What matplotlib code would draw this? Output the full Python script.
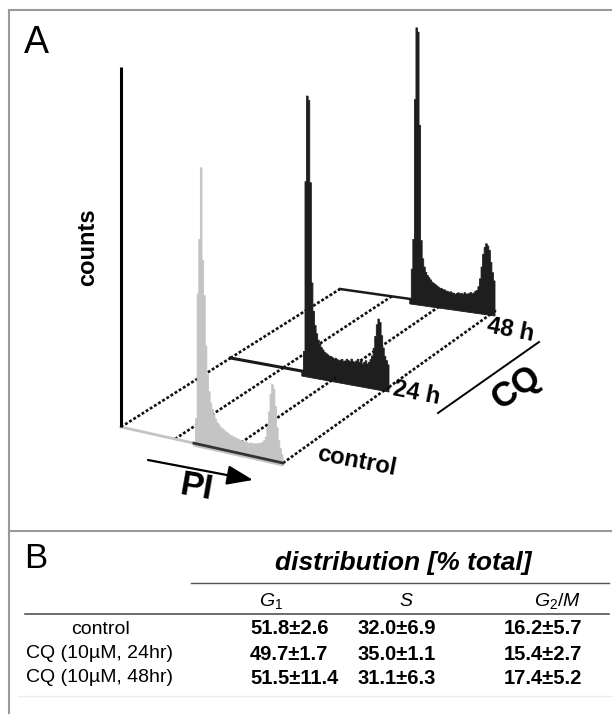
import matplotlib
matplotlib.use("Agg")
import matplotlib.pyplot as plt
import numpy as np
from matplotlib.patches import Polygon

plt.rcParams['font.family'] = ['Liberation Sans', 'DejaVu Sans']
plt.rcParams['mathtext.fontset'] = 'custom'
plt.rcParams['mathtext.it'] = 'Liberation Sans:italic'
plt.rcParams['mathtext.rm'] = 'Liberation Sans'

# ---------------- data ----------------
# PI channel (relative DNA content, % of full scale), one value per channel
pi_channels = list(range(45, 101))
counts_control = [0, 25, 150, 205, 277, 185, 150, 100, 72, 55,
                  44, 38, 33, 29, 26, 24, 22, 21, 20, 19,
                  18, 17, 16, 16, 15, 15, 14, 14, 13, 13,
                  13, 12, 13, 12, 12, 13, 12, 13, 13, 14,
                  14, 15, 16, 18, 22, 32, 48, 66, 76, 72,
                  55, 34, 22, 14, 8, 0]
counts_24h = [0, 20, 190, 276, 272, 190, 90, 62, 48, 40,
              34, 30, 27, 25, 23, 22, 21, 20, 20, 19,
              18, 19, 18, 17, 18, 19, 17, 18, 20, 19,
              18, 21, 19, 18, 20, 22, 19, 21, 18, 20,
              22, 19, 21, 24, 28, 36, 48, 60, 66, 63,
              50, 38, 30, 26, 22, 0]
counts_48h = [0, 30, 60, 200, 272, 268, 175, 60, 42, 34,
              29, 26, 24, 22, 20, 19, 18, 17, 16, 15,
              15, 14, 14, 13, 13, 12, 13, 12, 12, 11,
              12, 13, 12, 13, 12, 14, 13, 13, 14, 15,
              14, 15, 17, 18, 22, 30, 42, 55, 62, 66,
              64, 60, 48, 38, 30, 0]
sample_labels = ['control', '24 h', '48 h']
sample_depth = [0.0, 0.5, 1.0]          # position along the CQ (time) axis

row_labels = ['control', 'CQ (10µM, 24hr)', 'CQ (10µM, 48hr)']
phase_headers = [r'$\mathit{G_1}$', r'$\mathit{S}$', r'$\mathit{G_2/M}$']
g1_mean = [51.8, 49.7, 51.5]
g1_sd = [2.6, 1.7, 11.4]
s_mean = [32.0, 35.0, 31.1]
s_sd = [6.9, 1.1, 6.3]
g2m_mean = [16.2, 15.4, 17.4]
g2m_sd = [5.7, 2.7, 5.2]

# ---------------- figure ----------------
fig = plt.figure(figsize=(6.12, 7.15), dpi=100)
ax = fig.add_axes([0, 0, 1, 1])
ax.set_xlim(0, 612)
ax.set_ylim(715, 0)
ax.axis('off')

# oblique projection frame (front-left, front-right, back-left, back-right)
FL = np.array([121.0, 427.0]); FR = np.array([283.0, 463.0])
BL = np.array([340.0, 289.0]); BR = np.array([495.0, 311.0])


def base(s, t):
    s = np.asarray(s, float)[..., None]
    return (1 - s) * (1 - t) * FL + s * (1 - t) * FR + (1 - s) * t * BL + s * t * BR


def proj(chan, cnt, t):
    p = base(np.asarray(chan, float) / 100.0, t)
    return p[:, 0], p[:, 1] - np.asarray(cnt, float)


def hist_polygon(chan, cnt, t, under):
    c = np.asarray(chan, float); h = np.asarray(cnt, float)
    xs = [c[0]]; hs = [-under]
    for i in range(len(c) - 1):
        xs += [c[i], c[i + 1]]
        hs += [h[i], h[i]]
    xs += [c[-1]]; hs += [-under]
    X, Y = proj(xs, hs, t)
    return np.column_stack([X, Y])


grid_s = [0, 100 / 3, 200 / 3, 100]
dash = dict(color='#111111', lw=1.9, ls=(0, (1.1, 0.75)), solid_capstyle='butt')

# back half grid (between 24 h and 48 h)
for g in grid_s:
    p0 = base([g / 100], 0.5)[0]; p1 = base([g / 100], 1.0)[0]
    ax.plot([p0[0], p1[0]], [p0[1], p1[1]], zorder=1, **dash)
# 48 h baseline
X, Y = proj([0, 100], [0, 0], 1.0)
ax.plot(X, Y, color='#1a1a1a', lw=1.8, zorder=1)
ax.add_patch(Polygon(hist_polygon(pi_channels, counts_48h, 1.0, 5),
                     closed=True, fc='#1e1e1e', ec='#1e1e1e', lw=0.6, zorder=2))

# 24 h
X, Y = proj([0, 100], [0, 0], 0.5)
ax.plot(X, Y, color='#1a1a1a', lw=2.2, zorder=3)
ax.add_patch(Polygon(hist_polygon(pi_channels, counts_24h, 0.5, 5),
                     closed=True, fc='#1e1e1e', ec='#1e1e1e', lw=0.6, zorder=3))

# front half grid
for g in grid_s:
    p0 = base([g / 100], 0.0)[0]; p1 = base([g / 100], 0.5)[0]
    ax.plot([p0[0], p1[0]], [p0[1], p1[1]], zorder=4, **dash)

# control
X, Y = proj([0, pi_channels[0]], [0, 0], 0.0)
ax.plot(X, Y, color='#c4c4c4', lw=2.0, zorder=5)
ax.add_patch(Polygon(hist_polygon(pi_channels, counts_control, 0.0, 3),
                     closed=True, fc='#c4c4c4', ec='#c4c4c4', lw=0.6, zorder=5))
X, Y = proj([pi_channels[0], 100], [0, 0], 0.0)
ax.plot(X, Y, color='#333333', lw=2.0, zorder=6)

# counts axis
X, Y = proj([0, 0], [0, 360], 0.0)
ax.plot(X, Y, color='black', lw=2.2, zorder=6, solid_capstyle='butt')

# labels of panel A
ax.text(24, 53, 'A', fontsize=27, ha='left', va='baseline')
ax.text(88, 247, 'counts', fontsize=17, fontweight='bold', rotation=90,
        ha='center', va='center')
ax.text(357, 461, sample_labels[0], fontsize=17, fontweight='bold', rotation=-11,
        ha='center', va='center', rotation_mode='anchor')
ax.text(417, 393, sample_labels[1], fontsize=17, fontweight='bold', rotation=-11,
        ha='center', va='center', rotation_mode='anchor')
ax.text(510, 330, sample_labels[2], fontsize=17, fontweight='bold', rotation=-11,
        ha='center', va='center', rotation_mode='anchor')
ax.text(197, 488, 'PI', fontsize=25, fontweight='bold', rotation=-10,
        ha='center', va='center', rotation_mode='anchor')
ax.text(516, 388, 'CQ', fontsize=25, fontweight='bold', rotation=35,
        ha='center', va='center', rotation_mode='anchor')
ax.plot([438, 539], [413, 342], color='black', lw=1.4)
ax.annotate('', xy=(253, 480), xytext=(148, 460),
            arrowprops=dict(arrowstyle='-|>,head_length=0.8,head_width=0.3',
                            color='black', lw=1.6, mutation_scale=20,
                            shrinkA=0, shrinkB=0))

# frame
fc = '#9a9a9a'
ax.plot([8.5, 612], [10, 10], color=fc, lw=1.5)
ax.plot([8.5, 8.5], [10, 713], color=fc, lw=1.5)
ax.plot([8.5, 612], [530.5, 530.5], color=fc, lw=1.5)

# ---------------- panel B table ----------------
ax.text(24, 568, 'B', fontsize=25, ha='left', va='baseline')
ax.text(403, 563, 'distribution [% total]', fontsize=19, fontweight='bold',
        style='italic', ha='center', va='center')
ax.plot([191, 609], [583, 583], color='#555555', lw=1.0)
col_x = [271, 406, 557]
for x, h in zip(col_x, phase_headers):
    ax.text(x, 601, h, fontsize=14, ha='center', va='center')
ax.plot([25, 609], [614, 614], color='#444444', lw=1.1)

row_y = [629, 654, 678]
num_x = [250, 358, 504]
cols = [(g1_mean, g1_sd), (s_mean, s_sd), (g2m_mean, g2m_sd)]
for i, y in enumerate(row_y):
    ax.text(100, y, row_labels[i], fontsize=14, ha='center', va='center')
    for x, (m, sd) in zip(num_x, cols):
        ax.text(x, y, f'{m[i]:.1f}±{sd[i]:.1f}', fontsize=14.5, fontweight='bold',
                ha='left', va='center')
ax.plot([18, 612], [696, 696], color='#ececec', lw=1.0)

fig.savefig('out.png', dpi=100)
